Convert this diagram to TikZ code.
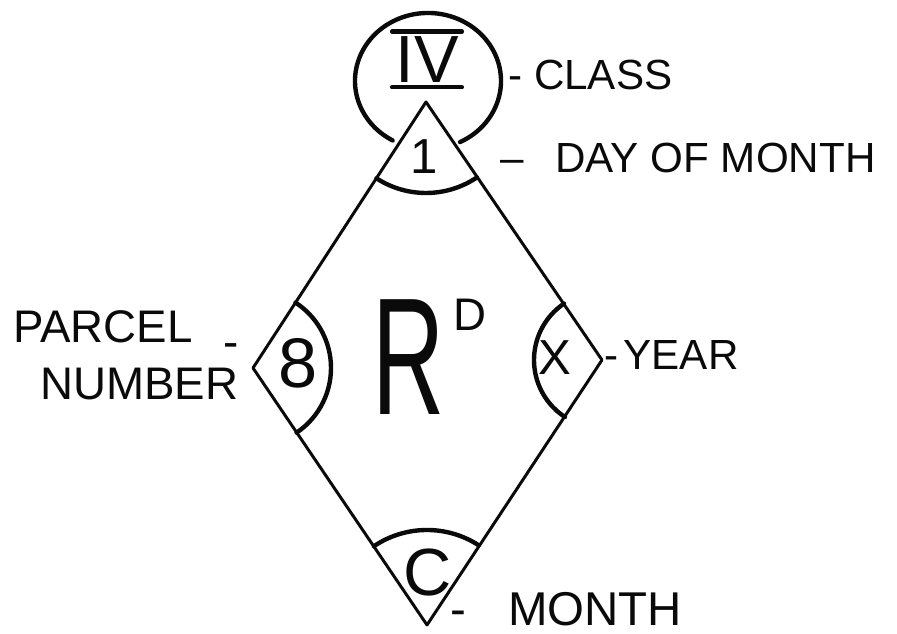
\documentclass[tikz,border=0pt]{standalone}
\usepackage{fontspec}
\setmainfont{Liberation Sans}
\usepackage{graphicx}
\definecolor{Ink}{HTML}{0A0A0A}

\begin{document}
\begin{tikzpicture}[x=0.02cm,y=0.02cm,every node/.style={inner sep=0pt,text=Ink},
  diamondline/.style={line width=1.7pt,draw=Ink,line join=round},
  sectorarc/.style={line width=2.5pt,draw=Ink,line cap=round},
  tag/.style={anchor=base west,font=\fontsize{24}{28}\selectfont},
  digit/.style={font=\fontsize{#1}{#1}\selectfont}]
  \useasboundingbox (0,0) rectangle (897,634);
  \coordinate (top) at (426,532);
  \coordinate (left) at (253,266);
  \coordinate (right) at (602,274);
  \coordinate (bottom) at (427,9);
  \coordinate (cap) at (428,553);
  \draw[diamondline] (top) -- (right) -- (bottom) -- (left) -- cycle;
  \draw[sectorarc] (top) ++(237:91) arc[start angle=237,end angle=304,radius=91];
  \draw[sectorarc] (left) ++(-56:78) arc[start angle=-56,end angle=57,radius=78];
  \draw[sectorarc] (right) ++(124:68) arc[start angle=124,end angle=237,radius=68];
  \draw[sectorarc] (bottom) ++(57:95) arc[start angle=57,end angle=124,radius=95];
  \draw[sectorarc] (cap) ++(-64:73 and 68) arc[start angle=-64,end angle=241,x radius=73,y radius=68];
  \node[digit=38] (numeral) at (427,574) {IV};
  \draw[sectorarc] ([shift={(-3,5)}]numeral.north west) -- ([shift={(3,5)}]numeral.north east);
  \draw[sectorarc] ([shift={(-3,-4)}]numeral.south west) -- ([shift={(3,-4)}]numeral.south east);
  \node[digit=28] (dayno) at (424,477) {1};
  \node[digit=40] (parcelno) at (298,271) {8};
  \node[digit=28] (yearno) at (555,276) {X};
  \node[digit=38] (monthno) at (428,61) {C};
  \node[anchor=base west,font=\fontsize{95}{95}\selectfont] (rd) at (372,219) {\scalebox{0.6}[1]{R}\hspace{5pt}\raisebox{48pt}{\fontsize{26}{26}\selectfont D}};
  \node[tag] (classtag) at (508,544) {- CLASS};
  \node[tag] (daytag) at (500,461) {\textendash\hspace{18pt}DAY OF MONTH};
  \node[tag] (yeartag) at (604,264) {-\hspace{3pt}YEAR};
  \node[tag,font=\fontsize{27}{31}\selectfont] (monthtag) at (450,8) {-\hspace{24pt}MONTH};
  \node[tag,font=\fontsize{26}{30}\selectfont] (parceltag) at (13,291) {PARCEL};
  \node[tag,font=\fontsize{26}{30}\selectfont] (numbertag) at (40,234) {NUMBER\llap{\raisebox{24pt}{-}}};
\end{tikzpicture}
\end{document}
